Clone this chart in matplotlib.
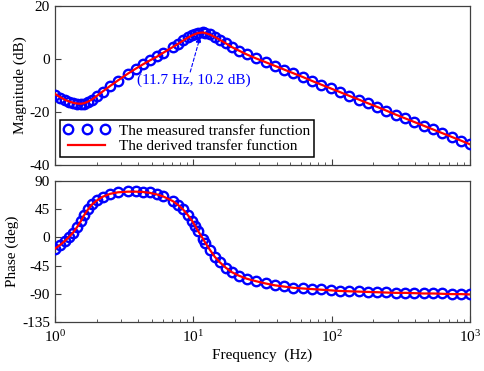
import matplotlib
matplotlib.use("Agg")
import matplotlib.pyplot as plt
from matplotlib.ticker import LogLocator, NullFormatter, FixedLocator

plt.rcParams['font.family'] = ['Liberation Serif', 'DejaVu Serif']
plt.rcParams['mathtext.fontset'] = 'stix'
plt.rcParams['font.size'] = 11
plt.rcParams['axes.unicode_minus'] = False

# Measured frequencies (Hz)
freq = [1.00, 1.09, 1.18, 1.26, 1.35, 1.44, 1.54, 1.62, 1.73, 1.85, 2.01, 2.22,
        2.50, 2.85, 3.37, 3.85, 4.33, 4.87, 5.47, 6.04, 7.1, 7.75, 8.4, 9.1,
        9.8, 10.3, 10.8, 11.7, 12.2, 13.2, 14.3, 15.6, 17.2, 19.0, 21.3, 24.4,
        28.5, 33.3, 38.9, 45.4, 53.0, 61.9, 72.3, 84.4, 98.5, 115, 134, 157,
        183, 214, 249, 291, 340, 397, 464, 541, 632, 738, 861, 1000]

mag_measured = [-13.4, -14.6, -15.5, -16.1, -16.6, -16.9, -17.0, -16.8, -16.2, -15.4,
                -14.0, -12.3, -10.3, -8.2, -5.5, -3.6, -2.0, -0.4, 1.0, 2.4, 4.6,
                5.8, 7.0, 8.2, 9.1, 9.6, 10.0, 10.2, 10.0, 9.3, 8.3, 7.2, 5.9, 4.5,
                3.2, 1.7, 0.2, -1.2, -2.6, -4.0, -5.4, -6.8, -8.3, -9.7, -11.1,
                -12.5, -13.9, -15.3, -16.7, -18.1, -19.5, -21.0, -22.4, -23.8,
                -25.2, -26.6, -28.0, -29.4, -30.8, -32.2]

phase_measured = [-18, -12, -6, 0, 7, 16, 26, 35, 45, 53, 59, 65, 69, 72, 73.5, 73.5,
                  73, 72, 69, 66, 58, 52, 45, 36, 26, 18, 10, -2, -9, -20, -31, -40,
                  -49, -56, -61, -66, -70, -73, -76, -78, -80, -81, -82, -83, -84,
                  -85, -85.5, -86, -86.5, -87, -87.5, -88, -88, -88.5, -89, -89,
                  -89.5, -90, -90, -90.5]

# Derived transfer function (same frequency grid)
mag_derived = [-13.2, -14.4, -15.4, -16.0, -16.5, -16.8, -16.9, -16.7, -16.1, -15.3,
               -13.9, -12.2, -10.2, -8.1, -5.5, -3.6, -2.0, -0.5, 0.9, 2.3, 4.5,
               5.7, 6.9, 8.0, 8.9, 9.4, 9.8, 10.0, 9.8, 9.2, 8.3, 7.2, 5.9, 4.5,
               3.2, 1.7, 0.2, -1.2, -2.6, -4.0, -5.4, -6.8, -8.3, -9.7, -11.1,
               -12.5, -13.9, -15.3, -16.7, -18.1, -19.5, -21.0, -22.4, -23.8,
               -25.2, -26.6, -28.0, -29.4, -30.8, -32.2]

phase_derived = [-18, -12, -5.5, 0.5, 7.5, 16, 26, 35, 44.5, 52.5, 59, 65, 69.5, 72,
                 73, 73, 72.5, 71, 68.5, 65.5, 58, 52, 45, 36, 26.5, 18.5, 10.5,
                 -1.5, -8.5, -20, -31, -40, -48.5, -55.5, -61, -66, -70, -73.5,
                 -76.5, -78.5, -80.5, -81.5, -82.5, -83.5, -84.5, -85.5, -86, -86.5,
                 -87, -87.5, -88, -88.5, -88.5, -89, -89.5, -89.5, -90, -90.5,
                 -90.5, -91]

mag_yticks = [-40, -20, 0, 20]
phase_yticks = [-135, -90, -45, 0, 45, 90]

annot_text = '(11.7 Hz, 10.2 dB)'
annot_text_pos = (3.92, -7.9)
arrow_tail = (9.5, -4.9)
arrow_head = (11.2, 8.3)

fig = plt.figure(figsize=(4.84, 3.71), dpi=100)
ax1 = fig.add_axes([0.1136, 0.5553, 0.8574, 0.4285])
ax2 = fig.add_axes([0.1136, 0.1321, 0.8574, 0.3800])

blue = '#0000FF'
red = '#FF0000'
spine_c = '#404040'

for ax in (ax1, ax2):
    ax.set_xscale('log')
    ax.set_xlim(1, 1000)
    ax.tick_params(which='both', direction='in', top=False, right=False,
                   color=spine_c, labelsize=11)
    ax.tick_params(which='major', length=4, width=0.8)
    ax.tick_params(which='minor', length=2.5, width=0.6)
    ax.xaxis.set_minor_locator(LogLocator(base=10, subs=range(2, 10)))
    ax.xaxis.set_minor_formatter(NullFormatter())
    for s in ax.spines.values():
        s.set_color(spine_c)
        s.set_linewidth(0.9)

ax1.plot(freq, mag_measured, 'o', mfc='none', mec=blue, ms=6.8, mew=1.7,
         label='The measured transfer function', zorder=3)
ax1.plot(freq, mag_derived, '-', color=red, lw=1.6,
         label='The derived transfer function', zorder=4)
ax1.set_ylim(-40, 20)
ax1.yaxis.set_major_locator(FixedLocator(mag_yticks))
ax1.set_xticklabels([])
ax1.set_ylabel('Magnitude (dB)', fontsize=11, labelpad=2)

ax1.text(annot_text_pos[0], annot_text_pos[1], annot_text, color=blue,
         fontsize=11, va='center', ha='left', zorder=5)
ax1.annotate('', xy=arrow_head, xytext=arrow_tail,
             arrowprops=dict(arrowstyle='-|>', color=blue, lw=0.8,
                             linestyle=(0, (3, 2)), mutation_scale=8,
                             shrinkA=0, shrinkB=0), zorder=5)

leg = ax1.legend(loc='lower left', bbox_to_anchor=(0.012, 0.05),
                 borderaxespad=0, numpoints=3, handlelength=3,
                 handletextpad=0.6, labelspacing=0.12, borderpad=0.25,
                 fancybox=False, framealpha=1, edgecolor='black',
                 fontsize=11)
leg.get_frame().set_linewidth(1.1)

ax2.plot(freq, phase_measured, 'o', mfc='none', mec=blue, ms=6.8, mew=1.7, zorder=3)
ax2.plot(freq, phase_derived, '-', color=red, lw=1.6, zorder=4)
ax2.set_ylim(-135, 90)
ax2.yaxis.set_major_locator(FixedLocator(phase_yticks))
ax2.set_ylabel('Phase (deg)', fontsize=11, labelpad=2)
ax2.set_xlabel('Frequency  (Hz)', fontsize=11, labelpad=3)
ax2.tick_params(axis='x', which='major', pad=5)

fig.savefig('out.png', dpi=100)
